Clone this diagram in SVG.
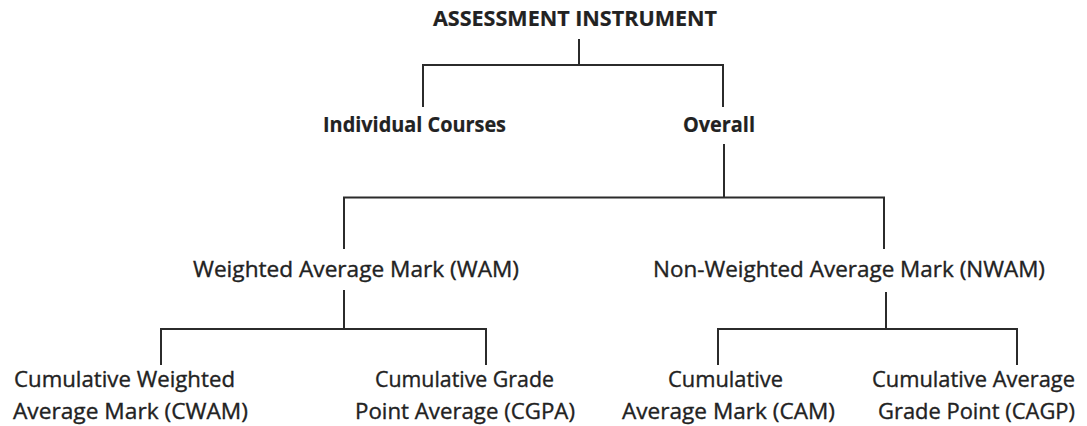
<svg xmlns="http://www.w3.org/2000/svg" width="1087" height="426" viewBox="0 0 1087 426">
  <style>
    .lbl { font-family: "Open Sans", "Noto Sans", "Liberation Sans", sans-serif; font-size: 22px; fill: #222; stroke: #222; stroke-width: 0.35; }
    .b { font-weight: bold; stroke-width: 0.2; }
    .wire { fill: none; stroke: #2b2b2b; stroke-width: 2; stroke-linecap: butt; stroke-linejoin: miter; }
  </style>
  <rect width="1087" height="426" fill="#ffffff"/>

  <!-- connectors: one bracket per parent -->
  <g id="connectors">
    <path class="wire" d="M579,39 V65 M423,107 V65 H723 V107"/>
    <path class="wire" d="M724,144 V197.5 M344,249 V197.5 H884 V249"/>
    <path class="wire" d="M344,290 V329 M161,365 V329 H486 V365"/>
    <path class="wire" d="M886,292 V329 M718,365 V329 H1017 V365"/>
  </g>

  <g id="root">
    <text class="lbl b" x="433" y="26" textLength="284" lengthAdjust="spacingAndGlyphs">ASSESSMENT INSTRUMENT</text>
  </g>
  <g id="individual">
    <text class="lbl b" x="323" y="132" textLength="183" lengthAdjust="spacingAndGlyphs">Individual Courses</text>
  </g>
  <g id="overall">
    <text class="lbl b" x="683" y="132" textLength="72" lengthAdjust="spacingAndGlyphs">Overall</text>
  </g>
  <g id="wam">
    <text class="lbl" x="193" y="277" textLength="326" lengthAdjust="spacingAndGlyphs">Weighted Average Mark (WAM)</text>
  </g>
  <g id="nwam">
    <text class="lbl" x="653" y="277" textLength="392" lengthAdjust="spacingAndGlyphs">Non-Weighted Average Mark (NWAM)</text>
  </g>
  <g id="cwam">
    <text class="lbl" x="14" y="387" textLength="221" lengthAdjust="spacingAndGlyphs">Cumulative Weighted</text>
    <text class="lbl" x="13" y="419" textLength="235" lengthAdjust="spacingAndGlyphs">Average Mark (CWAM)</text>
  </g>
  <g id="cgpa">
    <text class="lbl" x="375" y="387" textLength="179" lengthAdjust="spacingAndGlyphs">Cumulative Grade</text>
    <text class="lbl" x="355" y="419" textLength="220" lengthAdjust="spacingAndGlyphs">Point Average (CGPA)</text>
  </g>
  <g id="cam">
    <text class="lbl" x="668" y="387" textLength="115" lengthAdjust="spacingAndGlyphs">Cumulative</text>
    <text class="lbl" x="622" y="419" textLength="213" lengthAdjust="spacingAndGlyphs">Average Mark (CAM)</text>
  </g>
  <g id="cagp">
    <text class="lbl" x="872" y="387" textLength="203" lengthAdjust="spacingAndGlyphs">Cumulative Average</text>
    <text class="lbl" x="878" y="419" textLength="197" lengthAdjust="spacingAndGlyphs">Grade Point (CAGP)</text>
  </g>
</svg>
